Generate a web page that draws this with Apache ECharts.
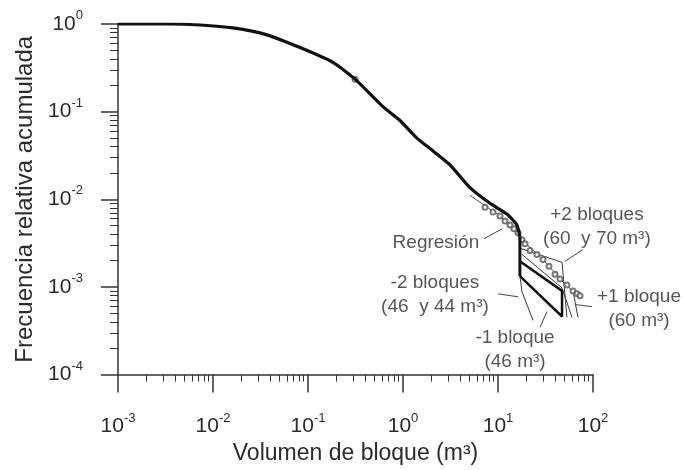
<!DOCTYPE html>
<html>
<head>
<meta charset="utf-8">
<script src="https://cdn.jsdelivr.net/npm/echarts@6/dist/echarts.min.js"></script>
<style>
  html, body { margin: 0; padding: 0; background: #fff; }
  #chart { width: 685px; height: 470px; }
</style>
</head>
<body>
<div id="chart"></div>
<script>
// axis ticks (log scale)
var xTicks = [0.001, 0.01, 0.1, 1, 10, 100];
var yTicks = [0.0001, 0.001, 0.01, 0.1, 1];

// empirical cumulative curve [volumen m3, frecuencia]
var mainCurve = [
  [0.001, 1.0], [0.00352, 1.0], [0.0073, 0.974], [0.01625, 0.902], [0.037, 0.752],
  [0.0824, 0.538], [0.183, 0.365], [0.313, 0.235], [0.615, 0.114], [0.929, 0.0792],
  [1.40, 0.0498], [2.07, 0.0356], [3.12, 0.0247], [5.07, 0.0136], [8.24, 0.0090],
  [12.4, 0.00678], [15.8, 0.0051], [17.0, 0.00374]
];
var mainDrop = [[17.0, 0.00374], [17.0, 0.00133]];
// data points (circles)
var points = [
  [0.313, 0.235],
  [7.30, 0.00813], [8.86, 0.00714], [10.5, 0.00644], [11.85, 0.00566], [13.37, 0.0051],
  [14.73, 0.0046], [16.24, 0.00415], [17.89, 0.00346], [19.24, 0.00312], [21.72, 0.00261],
  [25.73, 0.00235], [29.77, 0.00206], [34.42, 0.00172], [39.8, 0.0014], [44.96, 0.00123],
  [53.2, 0.00105], [61.6, 0.000902], [67.9, 0.000835], [73.0, 0.000792]
];
var regression = [
  [5.07, 0.0111], [10.5, 0.00644], [17.9, 0.00346], [29.77, 0.00206], [47.2, 0.00117], [73.0, 0.000752]
];
// block variations
var minus1 = [[17.0, 0.00196], [47.2, 0.000902], [47.2, 0.00046], [17.0, 0.00133]];
var minus2 = [[17.0, 0.00133], [17.9, 0.000879], [23.4, 0.000415]];
var plus1 = [[17.9, 0.00235], [47.2, 0.000975], [60.1, 0.00045]];
var plus2 = [[17.5, 0.00274], [47.2, 0.00191], [53.2, 0.00045]];
var plus2b = [[61.6, 0.000902], [69.5, 0.00045]];

// annotations
var noteTexts = ['Regresión', '+2 bloques\n(60  y 70 m³)', '-2 bloques\n(46  y 44 m³)', '-1 bloque\n(46 m³)', '+1 bloque\n(60 m³)'];
var noteAt = [[2.22, 0.00321], [110, 0.004845], [2.17, 0.000813], [15.1, 0.000191], [305, 0.000566]];
var leaders = [
  [[7.12, 0.00355], [11.0, 0.0046]],
  [[50.7, 0.00196], [78.5, 0.00267]],
  [[10.0, 0.000835], [16.24, 0.000772]],
  [[27.7, 0.000346], [32.8, 0.000524]],
  [[66.2, 0.000628], [97.6, 0.000596]]
];

function minors(ticks) {
  var out = [];
  for (var i = 0; i < ticks.length - 1; i++) {
    for (var k = 2; k <= 9; k++) out.push(Number((k * ticks[i]).toPrecision(3)));
  }
  return out;
}

var FONT = '"Liberation Sans", Arial, sans-serif';
var TXT = '#2b2b2b';
var powLabel = {
  color: TXT,
  fontFamily: FONT,
  formatter: function (v) {
    var e = Math.round(Math.log10(v));
    return '{b|10}{s|' + e + '}';
  },
  rich: {
    b: { fontSize: 21, fontFamily: FONT, color: TXT, lineHeight: 30 },
    s: { fontSize: 13, fontFamily: FONT, color: TXT, verticalAlign: 'top', lineHeight: 14 }
  }
};

var myChart = echarts.init(document.getElementById('chart'));

var thin = { color: '#3a3a3a', width: 1 };
var series = [
  {
    name: 'regresion', type: 'line', data: regression, showSymbol: false,
    lineStyle: { color: '#555', width: 1 }, z: 2
  },
  {
    name: 'puntos', type: 'scatter', data: points, symbol: 'emptyCircle', symbolSize: 5,
    itemStyle: { color: '#585858', borderWidth: 1 }, z: 3
  },
  {
    name: 'curva', type: 'line', data: mainCurve, showSymbol: false, smooth: 0.2,
    lineStyle: { color: '#111', width: 3.2 }, z: 4
  },
  { name: 'caida', type: 'line', data: mainDrop, showSymbol: false, lineStyle: { color: '#111', width: 3 }, z: 4 },
  { name: '-1 bloque', type: 'line', data: minus1, showSymbol: false, lineStyle: { color: '#111', width: 2.5 }, z: 4 },
  { name: '-2 bloques', type: 'line', data: minus2, showSymbol: false, lineStyle: thin, z: 2 },
  { name: '+1 bloque', type: 'line', data: plus1, showSymbol: false, lineStyle: thin, z: 2 },
  { name: '+2 bloques', type: 'line', data: plus2, showSymbol: false, lineStyle: thin, z: 2 },
  { name: '+2 bloques b', type: 'line', data: plus2b, showSymbol: false, lineStyle: thin, z: 2 },
  {
    name: 'notas', type: 'scatter', clip: false, symbolSize: 0,
    data: noteAt.map(function (p, i) { return { value: p, name: noteTexts[i] }; }),
    label: {
      show: true, position: 'inside', formatter: '{b}', color: TXT,
      fontFamily: FONT, fontSize: 19, lineHeight: 24, align: 'center'
    },
    markLine: {
      silent: true, symbol: 'none', label: { show: false },
      lineStyle: { color: '#444', width: 1, type: 'solid' },
      data: leaders.map(function (l) { return [{ coord: l[0] }, { coord: l[1] }]; })
    },
    z: 5
  }
];

var option = {
  backgroundColor: '#fff',
  animation: false,
  grid: { left: 118, right: 92, top: 24, bottom: 90 },
  xAxis: [
    {
      type: 'log', logBase: 10, min: 0.001, max: 100, position: 'bottom',
      name: 'Volumen de bloque (m³)', nameLocation: 'middle', nameGap: 64,
      nameTextStyle: { fontFamily: FONT, fontSize: 23, color: TXT },
      axisLine: { show: true, lineStyle: { color: '#333', width: 1.5 } },
      axisTick: { show: true, length: 18, customValues: xTicks, lineStyle: { color: '#333', width: 1.5 } },
      axisLabel: Object.assign({ margin: 37, customValues: xTicks }, powLabel),
      splitLine: { show: false }
    },
    {
      type: 'log', logBase: 10, min: 0.001, max: 100, position: 'bottom',
      axisLine: { show: false },
      axisTick: { show: true, length: 7, customValues: minors(xTicks), lineStyle: { color: '#333', width: 1 } },
      axisLabel: { show: false },
      splitLine: { show: false }
    }
  ],
  yAxis: [
    {
      type: 'log', logBase: 10, min: 0.0001, max: 1, position: 'left',
      name: 'Frecuencia relativa acumulada', nameLocation: 'middle', nameGap: 80,
      nameTextStyle: { fontFamily: FONT, fontSize: 24, color: TXT },
      axisLine: { show: true, lineStyle: { color: '#333', width: 1.5 } },
      axisTick: { show: true, length: 17, customValues: yTicks, lineStyle: { color: '#333', width: 1.5 } },
      axisLabel: Object.assign({ margin: 35, customValues: yTicks }, powLabel),
      splitLine: { show: false }
    },
    {
      type: 'log', logBase: 10, min: 0.0001, max: 1, position: 'left',
      axisLine: { show: false },
      axisTick: { show: true, length: 8, customValues: minors(yTicks), lineStyle: { color: '#333', width: 1 } },
      axisLabel: { show: false },
      splitLine: { show: false }
    }
  ],
  series: series
};

myChart.setOption(option);
</script>
</body>
</html>
